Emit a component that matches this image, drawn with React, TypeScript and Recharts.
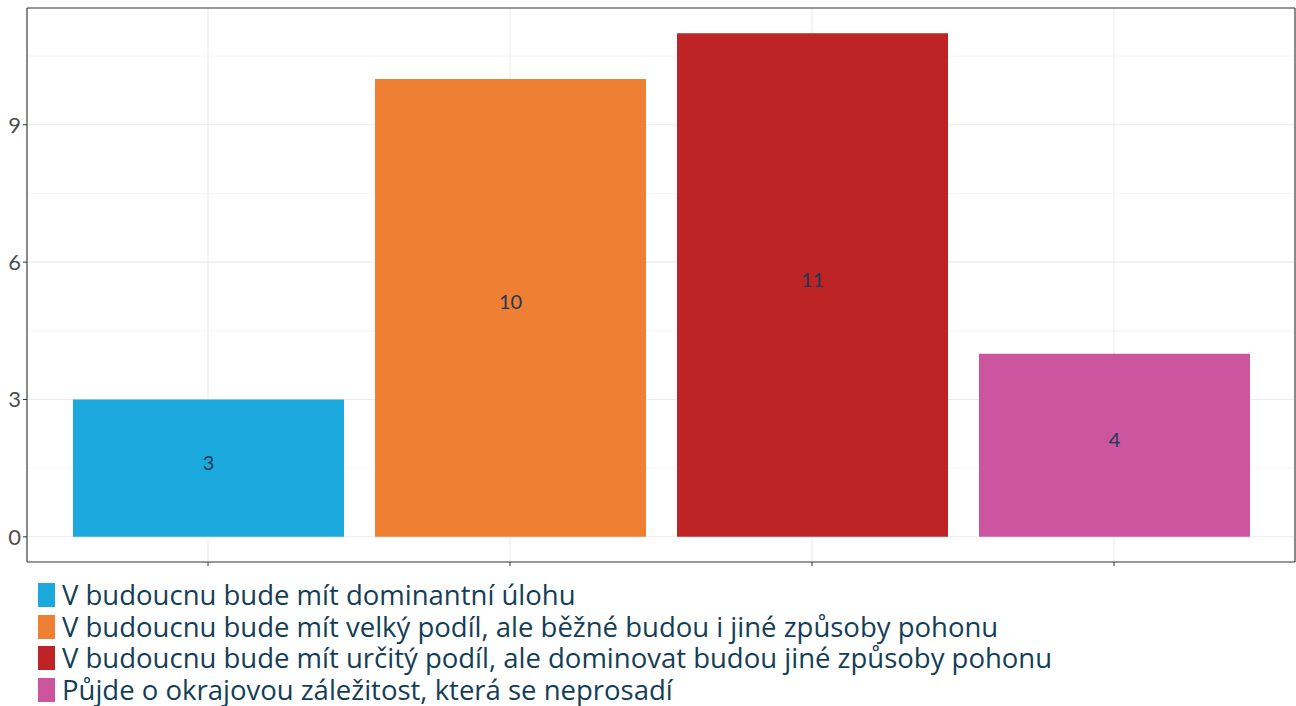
import { BarChart, Bar, XAxis, YAxis, CartesianGrid, Cell, LabelList } from "recharts";

const categories = [
  "V budoucnu bude mít dominantní úlohu",
  "V budoucnu bude mít velký podíl, ale běžné budou i jiné způsoby pohonu",
  "V budoucnu bude mít určitý podíl, ale dominovat budou jiné způsoby pohonu",
  "Půjde o okrajovou záležitost, která se neprosadí",
];
const counts = [3, 10, 11, 4];
const colors = ["#1BA9DD", "#EF7F33", "#BE2326", "#CB559F"];
const yTicks = [0, 3, 6, 9];
const yMinor = [1.5, 4.5, 7.5, 10.5];

const FONT = "Lato, 'Noto Sans', sans-serif";
const LEGEND_FONT = "'Open Sans', Lato, sans-serif";
const NAVY = "#143E58";
const FRAME = { stroke: "#333333", strokeWidth: 1.1 };

const data = categories.map((c, i) => ({ name: c, value: counts[i] }));

function MidLabel(props: any) {
  const { x, y, width, height, value } = props;
  return (
    <text
      x={x + width / 2}
      y={y + height / 2 + 1.5}
      textAnchor="middle"
      fill="#1E3A55"
      fontSize={20}
      fontFamily={FONT}
    >
      {value}
    </text>
  );
}

const NoTick = () => <g />;

export default function App() {
  return (
    <div style={{ position: "absolute", left: 0, top: 0, width: 1296, height: 706, background: "#fff" }}>
      <BarChart
        width={1296}
        height={570}
        data={data}
        margin={{ top: 7, right: 0, bottom: 0, left: 0 }}
        barSize={271}
      >
        <CartesianGrid horizontalValues={yMinor} vertical={false} stroke="#F0F0F0" strokeWidth={0.6} />
        <CartesianGrid horizontalValues={yTicks} stroke="#EBEBEB" strokeWidth={1.1} />
        <XAxis
          dataKey="name"
          height={8}
          interval={0}
          padding={{ left: 30, right: 30 }}
          tick={NoTick}
          tickSize={4}
          tickLine={{ stroke: "#333333" }}
          axisLine={FRAME}
        />
        <XAxis
          xAxisId="top"
          orientation="top"
          dataKey="name"
          height={1}
          tick={NoTick}
          tickLine={false}
          axisLine={FRAME}
        />
        <YAxis
          width={27}
          domain={[-0.55, 11.55]}
          ticks={yTicks}
          allowDataOverflow
          tickSize={4}
          tickMargin={2}
          tickLine={{ stroke: "#333333" }}
          axisLine={FRAME}
          tick={{ fill: "#4D4D4D", fontSize: 22, fontFamily: FONT }}
        />
        <YAxis
          yAxisId="right"
          orientation="right"
          width={1}
          domain={[-0.55, 11.55]}
          ticks={yTicks}
          tick={NoTick}
          tickLine={false}
          axisLine={FRAME}
        />
        <Bar dataKey="value" isAnimationActive={false}>
          {data.map((d, i) => (
            <Cell key={d.name} fill={colors[i]} />
          ))}
          <LabelList dataKey="value" content={MidLabel} />
        </Bar>
      </BarChart>
      <div style={{ position: "absolute", left: 38, top: 579, fontFamily: LEGEND_FONT }}>
        {categories.map((c, i) => (
          <div key={c} style={{ display: "flex", alignItems: "center", height: 31.7 }}>
            <div style={{ width: 17, height: 24, background: colors[i], marginRight: 7 }} />
            <span style={{ fontSize: 27.5, color: NAVY, whiteSpace: "nowrap", lineHeight: "30px" }}>{c}</span>
          </div>
        ))}
      </div>
    </div>
  );
}
